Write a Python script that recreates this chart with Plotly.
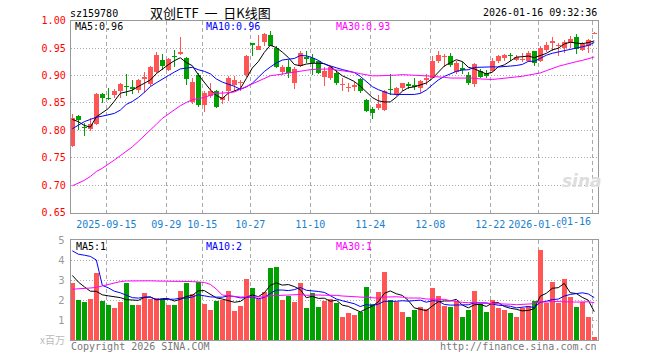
import plotly.graph_objects as go
import numpy as np

# ---------------- data ----------------
dates = ["2025-09-15", "09-29", "10-15", "10-27", "11-10", "11-24",
         "12-08", "12-22", "2026-01-05", "01-16"]
date_idx = [6, 16, 22, 30, 40, 50, 60, 70, 78, 87]

opens = [0.772, 0.827, 0.806, 0.802, 0.812, 0.867, 0.860, 0.864, 0.871, 0.881,
         0.879, 0.873, 0.893, 0.885, 0.907, 0.929, 0.910, 0.936, 0.940, 0.932,
         0.851, 0.901, 0.847, 0.862, 0.871, 0.856, 0.871, 0.883, 0.886, 0.901,
         0.958, 0.947, 0.962, 0.974, 0.950, 0.907, 0.916, 0.887, 0.917, 0.933,
         0.932, 0.926, 0.898, 0.895, 0.904, 0.882, 0.877, 0.880, 0.893, 0.855,
         0.839, 0.840, 0.837, 0.875, 0.866, 0.877, 0.885, 0.883, 0.878, 0.892,
         0.896, 0.926, 0.934, 0.936, 0.907, 0.913, 0.901, 0.884, 0.909, 0.904,
         0.909, 0.926, 0.932, 0.937, 0.929, 0.929, 0.926, 0.944, 0.926, 0.947,
         0.960, 0.953, 0.950, 0.959, 0.970, 0.947, 0.953, 0.976]
highs = [0.830, 0.829, 0.813, 0.823, 0.868, 0.869, 0.877, 0.875, 0.886, 0.903,
         0.892, 0.893, 0.907, 0.917, 0.943, 0.940, 0.932, 0.947, 0.971, 0.933,
         0.895, 0.905, 0.871, 0.886, 0.873, 0.871, 0.899, 0.899, 0.891, 0.937,
         0.959, 0.974, 0.977, 0.982, 0.953, 0.920, 0.929, 0.915, 0.944, 0.944,
         0.940, 0.929, 0.915, 0.918, 0.910, 0.895, 0.886, 0.889, 0.896, 0.858,
         0.843, 0.864, 0.874, 0.903, 0.880, 0.887, 0.889, 0.895, 0.891, 0.902,
         0.935, 0.945, 0.939, 0.942, 0.926, 0.924, 0.906, 0.923, 0.912, 0.910,
         0.932, 0.938, 0.939, 0.942, 0.938, 0.941, 0.944, 0.945, 0.953, 0.962,
         0.970, 0.959, 0.965, 0.973, 0.976, 0.962, 0.967, 0.980]
lows = [0.770, 0.801, 0.790, 0.799, 0.810, 0.850, 0.856, 0.860, 0.860, 0.862,
        0.867, 0.868, 0.868, 0.881, 0.905, 0.910, 0.909, 0.916, 0.938, 0.883,
        0.848, 0.842, 0.834, 0.859, 0.840, 0.848, 0.854, 0.871, 0.872, 0.898,
        0.935, 0.946, 0.953, 0.953, 0.913, 0.901, 0.895, 0.876, 0.916, 0.923,
        0.901, 0.902, 0.881, 0.892, 0.883, 0.872, 0.870, 0.872, 0.868, 0.834,
        0.821, 0.838, 0.836, 0.865, 0.863, 0.872, 0.876, 0.874, 0.868, 0.882,
        0.895, 0.923, 0.916, 0.916, 0.902, 0.902, 0.882, 0.880, 0.895, 0.895,
        0.907, 0.923, 0.926, 0.926, 0.926, 0.924, 0.924, 0.918, 0.924, 0.943,
        0.944, 0.935, 0.941, 0.950, 0.939, 0.944, 0.941, 0.975]
closes = [0.822, 0.819, 0.804, 0.811, 0.867, 0.859, 0.858, 0.871, 0.884, 0.879,
          0.875, 0.891, 0.898, 0.916, 0.937, 0.918, 0.930, 0.934, 0.943, 0.894,
          0.889, 0.847, 0.869, 0.871, 0.843, 0.861, 0.895, 0.892, 0.889, 0.936,
          0.957, 0.953, 0.976, 0.954, 0.915, 0.916, 0.904, 0.912, 0.942, 0.931,
          0.923, 0.904, 0.909, 0.915, 0.886, 0.884, 0.879, 0.882, 0.872, 0.835,
          0.832, 0.849, 0.871, 0.873, 0.878, 0.886, 0.881, 0.879, 0.890, 0.896,
          0.927, 0.938, 0.936, 0.920, 0.923, 0.911, 0.886, 0.921, 0.898, 0.899,
          0.927, 0.935, 0.938, 0.935, 0.933, 0.931, 0.941, 0.923, 0.951, 0.956,
          0.963, 0.956, 0.962, 0.967, 0.948, 0.958, 0.965, 0.978]
volumes = [2.83, 2.02, 1.92, 2.07, 3.33, 1.95, 1.77, 1.62, 1.92, 2.83,
           1.77, 1.77, 2.37, 2.05, 2.10, 2.05, 1.77, 1.77, 2.47, 2.83,
           2.32, 2.91, 1.82, 1.52, 1.97, 2.02, 2.47, 1.46, 1.72, 3.03,
           2.58, 2.05, 2.42, 3.59, 3.64, 2.02, 2.19, 1.92, 2.83, 1.62,
           2.36, 1.67, 1.97, 2.07, 1.87, 1.13, 1.36, 1.26, 1.41, 2.63,
           1.82, 2.42, 3.38, 2.02, 1.92, 1.41, 1.16, 1.52, 1.67, 1.57,
           2.58, 2.22, 1.72, 1.67, 1.97, 1.16, 1.52, 2.47, 1.82, 1.41,
           2.02, 1.62, 1.52, 1.36, 1.16, 1.62, 1.72, 1.97, 4.49, 1.87,
           2.88, 1.87, 3.03, 2.17, 1.67, 1.92, 1.16, 0.15]

# moving-average values before enough in-window history exists
ma5_head = [0.820, 0.816, 0.809, 0.806]
ma10_head = [0.803, 0.809, 0.816, 0.820, 0.824, 0.826, 0.828, 0.831, 0.837]
ma30_head = [0.699, 0.704, 0.709, 0.716, 0.725, 0.731, 0.738, 0.746, 0.754, 0.762,
             0.770, 0.780, 0.790, 0.801, 0.811, 0.822, 0.830, 0.837, 0.845, 0.851,
             0.856, 0.858, 0.860, 0.864, 0.868, 0.868, 0.869, 0.870, 0.875]
vma5_head = [3.23, 2.90, 2.66, 2.44]
vma10_head = [4.46, 4.29, 4.24, 4.18, 4.00, 2.73, 2.61, 2.44, 2.36]
vma30_head = [2.54, 2.55, 2.57, 2.60, 2.63, 2.70, 2.75, 2.82, 2.92, 2.95,
              2.96, 2.96, 2.96, 2.96, 2.95, 2.95, 2.95, 2.94, 2.93, 2.92,
              2.92, 2.90, 2.88, 2.78, 2.55, 2.25, 2.20, 2.17, 2.15]

# ---------------- helpers ----------------
W, H = 660, 360
RED, GREEN = "#ff5555", "#00a000"
MONO = "DejaVu Sans Mono"
n = len(closes)
idx = list(range(n))


def ma(vals, k, head):
    a = np.array(vals, dtype=float)
    out = list(head)
    for i in range(len(head), len(a)):
        out.append(float(a[i - k + 1:i + 1].mean()))
    return out


def px(x):
    return x / W


def py(y):
    return 1 - y / H


colors = [RED if c >= o else GREEN for o, c in zip(opens, closes)]
MINB = 0.0019
body_h = [max(abs(c - o), MINB) for o, c in zip(opens, closes)]
body_b = [min(o, c) - (bh - abs(c - o)) / 2 for o, c, bh in zip(opens, closes, body_h)]

fig = go.Figure()
# wicks
fig.add_trace(go.Bar(x=idx, y=[h - l for h, l in zip(highs, lows)], base=lows,
                     width=0.17, marker=dict(color=colors, line=dict(width=0)),
                     xaxis="x", yaxis="y", hoverinfo="skip"))
# bodies
fig.add_trace(go.Bar(x=idx, y=body_h, base=body_b, width=0.8,
                     marker=dict(color=colors, line=dict(width=0)),
                     xaxis="x", yaxis="y"))
for vals, k, head, col in [(closes, 5, ma5_head, "#000000"),
                           (closes, 10, ma10_head, "#0000ff"),
                           (closes, 30, ma30_head, "#ff00ff")]:
    fig.add_trace(go.Scatter(x=idx, y=ma(vals, k, head), mode="lines",
                             line=dict(color=col, width=1), xaxis="x", yaxis="y"))

# volume
fig.add_trace(go.Bar(x=idx, y=volumes, width=0.83,
                     marker=dict(color=colors, line=dict(width=0)),
                     xaxis="x2", yaxis="y2"))
for vals, k, head, col in [(volumes, 5, vma5_head, "#000000"),
                           (volumes, 10, vma10_head, "#0000ff"),
                           (volumes, 30, vma30_head, "#ff00ff")]:
    fig.add_trace(go.Scatter(x=idx, y=ma(vals, k, head), mode="lines",
                             line=dict(color=col, width=1), xaxis="x2", yaxis="y2"))

tickpos = [i - 0.33 for i in date_idx]
xdom = [px(70.7), px(597.7)]
xr = [-0.27, 87.57]
common_x = dict(domain=xdom, range=xr, tickvals=tickpos, showgrid=True,
                gridcolor="#aaaaaa", griddash="4px,3px", gridwidth=1,
                showline=True, mirror=True, linecolor="#999999", linewidth=1,
                zeroline=False, ticks="", fixedrange=True)

fig.update_layout(
    width=W, height=H, margin=dict(l=0, r=0, t=0, b=0, autoexpand=False),
    paper_bgcolor="white", plot_bgcolor="white", showlegend=False,
    barmode="overlay", bargap=0,
    xaxis=dict(**common_x, anchor="y",
               ticktext=dates[:-1] + [""],
               tickfont=dict(family=MONO, size=10, color="#1a7fd0"),
               ticklabelstandoff=2),
    yaxis=dict(domain=[py(212.7), py(20.7)], range=[0.65, 1.0],
               tickvals=[0.65, 0.70, 0.75, 0.80, 0.85, 0.90, 0.95, 1.00],
               tickformat=".2f", showgrid=True, gridcolor="#aaaaaa",
               griddash="1px,2px", showline=True, mirror=True,
               linecolor="#999999", zeroline=False, ticks="",
               tickfont=dict(family=MONO, size=10, color="#ff0000"),
               ticklabelstandoff=2, anchor="x", fixedrange=True),
    xaxis2=dict(**common_x, anchor="y2", showticklabels=False),
    yaxis2=dict(domain=[py(340), py(240)], range=[0, 5],
                tickvals=[1, 2, 3, 4, 5], showgrid=True, gridcolor="#aaaaaa",
                griddash="1px,2px", showline=True, mirror=True,
                linecolor="#999999", zeroline=False, ticks="",
                tickfont=dict(family="DejaVu Sans", size=10, color="#999999"),
                ticklabelstandoff=3, anchor="x2", fixedrange=True),
)


def ann(text, x, y, color="#000000", xanchor="left", size=10, family=MONO, **kw):
    fig.add_annotation(text=text, x=px(x), y=py(y), xref="paper", yref="paper",
                       xanchor=xanchor, yanchor="middle", showarrow=False,
                       font=dict(family=family, size=size, color=color),
                       borderpad=0, **kw)


ann("sz159780", 69, 13.5)
ann("双创ETF\u00a0\u00a0一\u00a0\u00a0日K线图", 210, 12.5, xanchor="center", size=13,
    family="Noto Sans CJK SC")
ann("2026-01-16 09:32:36", 597.5, 13, xanchor="right")
ann("MA5:0.96", 73.5, 26.5)
ann("MA10:0.96", 205, 26.5, color="#0000ff")
ann("MA30:0.93", 334.5, 26.5, color="#ff00ff")
ann(dates[-1], 591.5, 221, color="#1a7fd0", xanchor="right", bgcolor="white")
ann("MA5:1", 75, 246.5)
ann("MA10:2", 205, 246.5, color="#0000ff")
ann("MA30:1", 335, 246.5, color="#ff00ff")
ann("x百万", 66, 339.5, color="#bbbbbb", xanchor="right", family="Noto Sans CJK SC")
ann("Copyright 2026 SINA.COM", 70, 346, color="#777777")
ann("http://finance.sina.com.cn", 597.5, 346, color="#777777", xanchor="right")
ann("<b><i>sina</i></b>", 582, 181, color="#dddddd", xanchor="center", size=17,
    family="DejaVu Sans")

fig.write_html("out.html", config={"displayModeBar": False, "staticPlot": True},
               post_script="document.body.style.margin='0px';"
                           "document.body.style.overflow='hidden';")
